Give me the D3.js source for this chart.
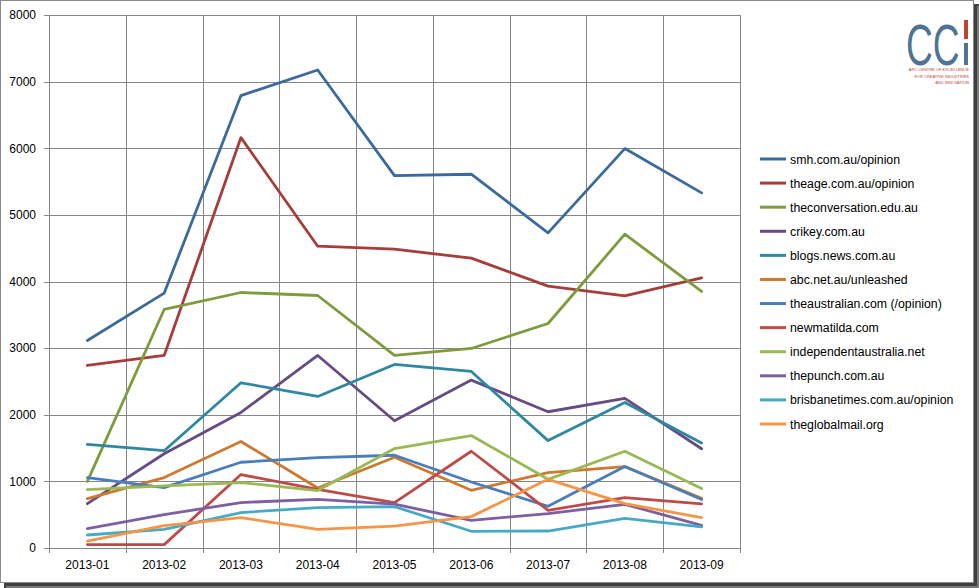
<!DOCTYPE html>
<html>
<head>
<meta charset="utf-8">
<script src="https://cdn.jsdelivr.net/npm/d3@7"></script>
<style>
html,body{margin:0;padding:0;background:#fff;}
svg{display:block;}
text{font-family:"Liberation Sans",Arial,sans-serif;}
</style>
</head>
<body>
<svg id="chart" width="979" height="588"></svg>
<script>
const categories = ["2013-01","2013-02","2013-03","2013-04","2013-05","2013-06","2013-07","2013-08","2013-09"];
const yTicks = [0,1000,2000,3000,4000,5000,6000,7000,8000];

const seriesNames = ["smh.com.au/opinion","theage.com.au/opinion","theconversation.edu.au","crikey.com.au","blogs.news.com.au","abc.net.au/unleashed","theaustralian.com (/opinion)","newmatilda.com","independentaustralia.net","thepunch.com.au","brisbanetimes.com.au/opinion","theglobalmail.org"];
const seriesColors = ["#3c6a9c","#a53e3b","#7e9b3e","#664c82","#2f88a0","#cd7a30","#4a7ebb","#be4b48","#98b954","#7d60a0","#46aac5","#f69546"];

const smh = [3115, 3825, 6790, 7175, 5590, 5610, 4730, 5995, 5330];
const theage = [2740, 2890, 6160, 4530, 4485, 4350, 3930, 3785, 4055];
const theconversation = [1000, 3580, 3835, 3790, 2890, 2995, 3370, 4710, 3850];
const crikey = [665, 1415, 2035, 2890, 1910, 2520, 2045, 2245, 1490];
const blogsnews = [1555, 1460, 2480, 2275, 2755, 2650, 1612, 2185, 1577];
const abc = [742, 1057, 1598, 900, 1362, 866, 1132, 1222, 746];
const theaustralian = [1057, 907, 1287, 1357, 1392, 991, 626, 1222, 727];
const newmatilda = [51, 51, 1102, 880, 682, 1452, 566, 757, 661];
const independent = [877, 931, 982, 862, 1492, 1688, 1031, 1452, 892];
const thepunch = [291, 501, 682, 731, 658, 416, 516, 656, 341];
const brisbanetimes = [195, 281, 532, 606, 621, 251, 255, 446, 316];
const theglobalmail = [105, 336, 456, 281, 328, 471, 1031, 666, 456];

const seriesValues = [smh, theage, theconversation, crikey, blogsnews, abc, theaustralian, newmatilda, independent, thepunch, brisbanetimes, theglobalmail];
const series = seriesNames.map((n,i)=>({name:n,color:seriesColors[i],values:seriesValues[i]}));

const svg = d3.select("#chart");

// frame with shadow
svg.append("rect").attr("x",4).attr("y",4).attr("width",975).attr("height",584).attr("fill","#404040");
svg.append("rect").attr("x",977).attr("y",6).attr("width",2).attr("height",582).attr("fill","#7a7a7a");
svg.append("rect").attr("x",6).attr("y",586).attr("width",973).attr("height",2).attr("fill","#7a7a7a");
svg.append("rect").attr("x",0.5).attr("y",0.5).attr("width",973).attr("height",582).attr("fill","#fff").attr("stroke","#8a8a8a").attr("stroke-width",1);

const pLeft = 49, pRight = 740, pTop = 15, pBottom = 548;
const x = d3.scaleBand().domain(categories).range([pLeft,pRight]).padding(0);
const y = d3.scaleLinear().domain([0,8000]).range([pBottom,pTop]);

const grid = svg.append("g");
grid.selectAll("line.h").data(yTicks).enter().append("line")
  .attr("x1",pLeft-5).attr("x2",pRight).attr("y1",d=>Math.round(y(d))+0.5).attr("y2",d=>Math.round(y(d))+0.5)
  .attr("stroke","#878787").attr("stroke-width",1);
const bounds = categories.map(c=>x(c)).concat([pRight]);
grid.selectAll("line.v").data(bounds).enter().append("line")
  .attr("x1",d=>Math.round(d)+0.5).attr("x2",d=>Math.round(d)+0.5).attr("y1",pTop).attr("y2",pBottom+5)
  .attr("stroke","#878787").attr("stroke-width",1);

const yAxis = d3.axisLeft(y).tickValues(yTicks).tickSize(0).tickPadding(13).tickFormat(d3.format("d"));
const ya = svg.append("g").attr("transform",`translate(${pLeft},0)`).call(yAxis);
ya.select(".domain").remove();
ya.selectAll("text").attr("font-size","12px").attr("fill","#000").attr("font-family","Liberation Sans, Arial, sans-serif");

const xAxis = d3.axisBottom(x).tickSize(0).tickPadding(12);
const xa = svg.append("g").attr("transform",`translate(0,${pBottom})`).call(xAxis);
xa.select(".domain").remove();
xa.selectAll("text").attr("font-size","12px").attr("fill","#000").attr("font-family","Liberation Sans, Arial, sans-serif");

const line = d3.line().x((d,i)=>x(categories[i])+x.bandwidth()/2).y(d=>y(d));
svg.append("g").selectAll("path").data(series).enter().append("path")
  .attr("d",d=>line(d.values)).attr("fill","none").attr("stroke",d=>d.color)
  .attr("stroke-width",2.8).attr("stroke-linejoin","round").attr("stroke-linecap","round");

const lg = svg.append("g");
const lgy = d3.scaleLinear().domain([0,11]).range([159,424]);
series.forEach((s,i)=>{
  const g = lg.append("g").attr("transform",`translate(0,${lgy(i)})`);
  g.append("line").attr("x1",760).attr("x2",786).attr("y1",0).attr("y2",0).attr("stroke",s.color).attr("stroke-width",3);
  g.append("text").attr("x",790).attr("y",4.5).attr("font-size","12.3px").attr("fill","#000").text(s.name);
});

const logo = svg.append("g");
logo.append("text").attr("transform","translate(906,65) scale(0.64,1)").attr("font-family","DejaVu Sans, sans-serif")
  .attr("font-weight","200").attr("font-size","58px").attr("fill","#4f7394").text("CC");
logo.append("rect").attr("x",964).attr("y",20).attr("width",4).attr("height",19).attr("fill","#c0452f");
logo.append("rect").attr("x",964).attr("y",43).attr("width",4).attr("height",22).attr("fill","#4f7394");
const logoLines = ["ARC CENTRE OF EXCELLENCE","FOR CREATIVE  INDUSTRIES","AND INNOVATION"];
logo.selectAll("text.l").data(logoLines).enter().append("text")
  .attr("x",969).attr("y",(d,i)=>71+i*6.5).attr("text-anchor","end").attr("font-size","4px").attr("fill","#c0452f").text(d=>d);
</script>
</body>
</html>
